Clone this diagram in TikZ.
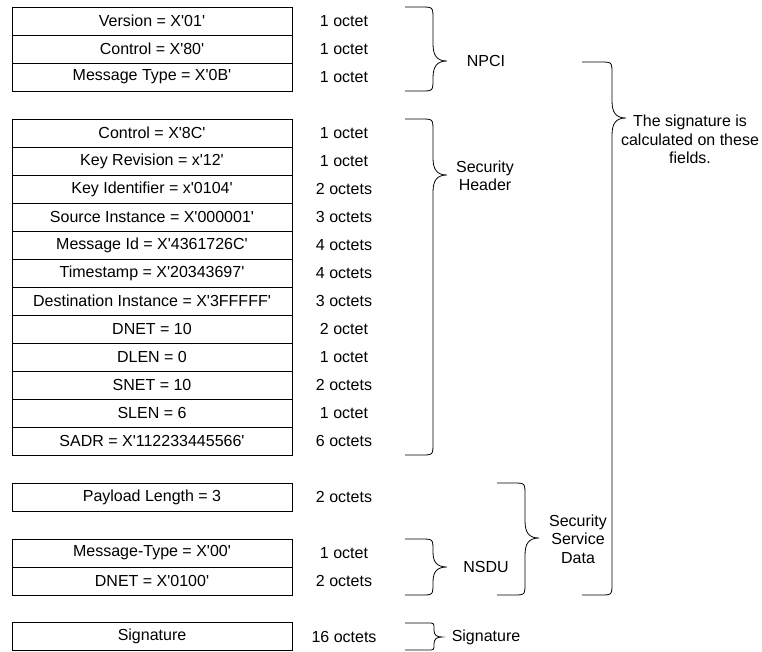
\documentclass[tikz,border=0pt]{standalone}
\usepackage{fontspec}
\setmainfont{Liberation Sans}[Ligatures=TeXOff]
% x0, xv, xtip, ytop, ytip, ybot, corner r, tip extent t
\newcommand\mybrace[8]{%
  \draw[bracestyle] (#1,#4) -- ({#2-#7},#4) .. controls (#2,#4) .. (#2,{#4+#7})
    -- (#2,{#5-#8}) .. controls (#2,{#5-0.3*#8}) and ({#2+0.3*(#3-#2)},#5) .. (#3,#5)
    .. controls ({#2+0.3*(#3-#2)},#5) and (#2,{#5+0.3*#8}) .. (#2,{#5+#8})
    -- (#2,{#6-#7}) .. controls (#2,#6) .. ({#2-#7},#6) -- (#1,#6);
}
\begin{document}
\begin{tikzpicture}[x=1pt,y=-1pt,
  field/.style={draw=black, line width=0.8pt, minimum width=280pt, minimum height=28pt,
    inner sep=0pt, font=\fontsize{16}{18.5}\selectfont},
  octet/.style={font=\fontsize{16}{18.5}\selectfont, inner sep=0pt},
  lbl/.style={font=\fontsize{16}{18.5}\selectfont, align=center, inner sep=0pt},
  bracestyle/.style={draw=black, line width=0.8pt}]
\useasboundingbox (0,0) rectangle (762,651);
% group 1
\node[field] (f1) at (152,21) {Version = X'01'};
\node[field] (f2) at (152,49) {Control = X'80'};
\node[field] (f3) at (152,77) {Message Type = X'0B'};
\node[octet] (o1) at (344,21) {1 octet};
\node[octet] (o2) at (344,49) {1 octet};
\node[octet] (o3) at (344,77) {1 octet};
% group 2
\node[field] (g1) at (152,133) {Control = X'8C'};
\node[field] (g2) at (152,161) {Key Revision = x'12'};
\node[field] (g3) at (152,189) {Key Identifier = x'0104'};
\node[field] (g4) at (152,217) {Source Instance = X'000001'};
\node[field] (g5) at (152,245) {Message Id = X'4361726C'};
\node[field] (g6) at (152,273) {Timestamp = X'20343697'};
\node[field] (g7) at (152,301) {Destination Instance = X'3FFFFF'};
\node[field] (g8) at (152,329) {DNET = 10};
\node[field] (g9) at (152,357) {DLEN = 0};
\node[field] (g10) at (152,385) {SNET = 10};
\node[field] (g11) at (152,413) {SLEN = 6};
\node[field] (g12) at (152,441) {SADR = X'112233445566'};
\node[octet] (p1) at (344,133) {1 octet};
\node[octet] (p2) at (344,161) {1 octet};
\node[octet] (p3) at (344,189) {2 octets};
\node[octet] (p4) at (344,217) {3 octets};
\node[octet] (p5) at (344,245) {4 octets};
\node[octet] (p6) at (344,273) {4 octets};
\node[octet] (p7) at (344,301) {3 octets};
\node[octet] (p8) at (344,329) {2 octet};
\node[octet] (p9) at (344,357) {1 octet};
\node[octet] (p10) at (344,385) {2 octets};
\node[octet] (p11) at (344,413) {1 octet};
\node[octet] (p12) at (344,441) {6 octets};
% payload
\node[field] (h1) at (152,497) {Payload Length = 3};
\node[octet] (q1) at (344,497) {2 octets};
% NSDU
\node[field] (n1) at (152,553) {Message-Type = X'00'};
\node[field] (n2) at (152,581) {DNET = X'0100'};
\node[octet] (r1) at (344,553) {1 octet};
\node[octet] (r2) at (344,581) {2 octets};
% signature
\node[field] (s1) at (152,636.5) {Signature};
\node[octet] (t1) at (344,636.5) {16 octets};
% braces
\mybrace{405}{433}{447}{7}{61}{91}{12}{17}
\mybrace{405}{433}{447}{119}{175}{455}{12}{17}
\mybrace{405}{433}{447}{539}{567}{595}{12}{15}
\mybrace{405}{434}{442}{623}{637}{650}{6}{7}
\mybrace{497}{525}{539}{483}{538}{595}{12}{17}
\mybrace{582}{612}{626}{62}{118}{595}{12}{17}
% labels
\node[lbl] (npci) at (486,61) {NPCI};
\node[lbl] (sech) at (485,176) {Security\\Header};
\node[lbl] (nsdu) at (486,567) {NSDU};
\node[lbl] (sig) at (486,637) {Signature};
\node[lbl] (ssd) at (578,539) {Security\\Service\\Data};
\node[lbl, anchor=north] (calc) at (690,115) {The signature is\\calculated on these\\fields.};
\end{tikzpicture}
\end{document}
